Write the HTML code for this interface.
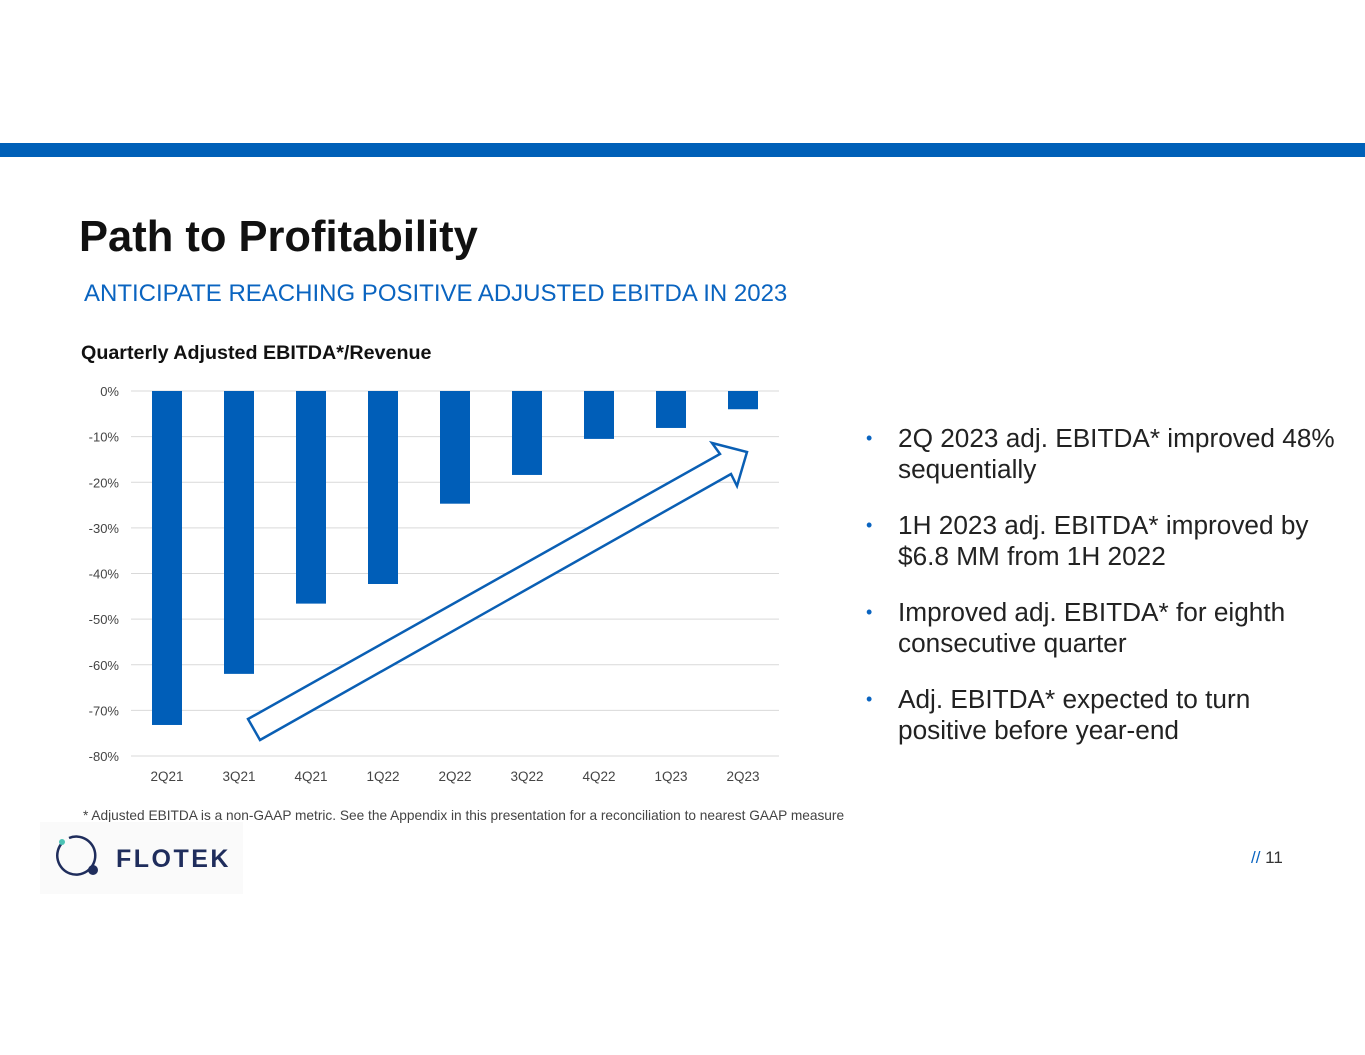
<!DOCTYPE html>
<html><head><meta charset="utf-8"><style>
body{margin:0;width:1365px;height:1055px;background:#fff;position:relative;overflow:hidden;font-family:"Liberation Sans",sans-serif}
.abs{position:absolute}
</style></head><body>
<div class="abs" style="left:0;top:143px;width:1365px;height:14px;background:#0060b8"></div>
<div class="abs" style="left:79px;top:213px;font-size:43.5px;font-weight:bold;color:#111">Path to Profitability</div>
<div class="abs" style="left:84px;top:280px;font-size:24px;color:#0a64c0">ANTICIPATE REACHING POSITIVE ADJUSTED EBITDA IN 2023</div>
<div class="abs" style="left:81px;top:342px;font-size:19.7px;font-weight:bold;color:#111">Quarterly Adjusted EBITDA*/Revenue</div>
<svg class="abs" style="left:0;top:0" width="1365" height="1055" id="chart"></svg>
<div class="abs" style="left:866px;top:423px;width:480px;font-size:26.2px;color:#222;line-height:31px">
<div style="position:relative;padding-left:32px;margin-bottom:25px"><span style="position:absolute;left:0;color:#0a64c0;font-size:18px">•</span>2Q 2023 adj. EBITDA* improved 48% sequentially</div>
<div style="position:relative;padding-left:32px;margin-bottom:25px"><span style="position:absolute;left:0;color:#0a64c0;font-size:18px">•</span>1H 2023 adj. EBITDA* improved by<br>$6.8 MM from 1H 2022</div>
<div style="position:relative;padding-left:32px;margin-bottom:25px"><span style="position:absolute;left:0;color:#0a64c0;font-size:18px">•</span>Improved adj. EBITDA* for eighth<br>consecutive quarter</div>
<div style="position:relative;padding-left:32px"><span style="position:absolute;left:0;color:#0a64c0;font-size:18px">•</span>Adj. EBITDA* expected to turn<br>positive before year-end</div>
</div>
<div class="abs" style="left:83px;top:808px;font-size:13.7px;color:#444">* Adjusted EBITDA is a non-GAAP metric. See the Appendix in this presentation for a reconciliation to nearest GAAP measure</div>
<div class="abs" style="left:40px;top:822px;width:203px;height:72px;background:#fafafa">
<svg width="203" height="72"><path d="M29 16 A19 19 0 1 1 22 21" fill="none" stroke="#1f2d5c" stroke-width="2.5"/><circle cx="22" cy="20" r="3" fill="#4cc3b5"/><circle cx="53" cy="48" r="5" fill="#1f2d5c"/>
<text x="76" y="45" font-family="Liberation Sans,sans-serif" font-weight="bold" font-size="25" fill="#1f2d5c" letter-spacing="2.5">FLOTEK</text></svg></div>
<div class="abs" style="left:1251px;top:848px;font-size:17px;color:#333"><span style="color:#0a64c0">//</span> 11</div>
<script>
const categories=["2Q21","3Q21","4Q21","1Q22","2Q22","3Q22","4Q22","1Q23","2Q23"];
const values=[-73.2,-62,-46.6,-42.3,-24.7,-18.4,-10.5,-8.1,-4];
const ticks=[0,-10,-20,-30,-40,-50,-60,-70,-80];
const svg=document.getElementById('chart');const NS='http://www.w3.org/2000/svg';
const y=v=>391+(-v)*365/80;
const x=i=>131+72*(i+0.5);
function mk(t,a){const e=document.createElementNS(NS,t);for(const k in a)e.setAttribute(k,a[k]);svg.appendChild(e);return e;}
ticks.forEach(t=>{
 const l=mk('line',{x1:131,x2:779,y1:y(t),y2:y(t),stroke:'#d9d9d9','stroke-width':1});
 
 
 const tx=mk('text',{x:119,y:y(t)+5,'text-anchor':'end','font-size':13,fill:'#444','font-family':'Liberation Sans,sans-serif'});tx.textContent=t+'%';
 
 
});
categories.forEach((c,i)=>{
 const v=values[i];
 const r=mk('rect',{x:x(i)-15,y:y(0),width:30,height:y(v)-y(0),fill:'#005eb8'});
 
 
 const tx=mk('text',{x:x(i),y:781,'text-anchor':'middle','font-size':13.5,fill:'#444','font-family':'Liberation Sans,sans-serif'});tx.textContent=c;
 
 
});
const ar=mk('polygon',{points:'248,719 720,454 712,443 747,452 737,486 731,474 260,740',fill:'#fff',stroke:'#0a5fb4','stroke-width':2.5});


</script>
</body></html>
